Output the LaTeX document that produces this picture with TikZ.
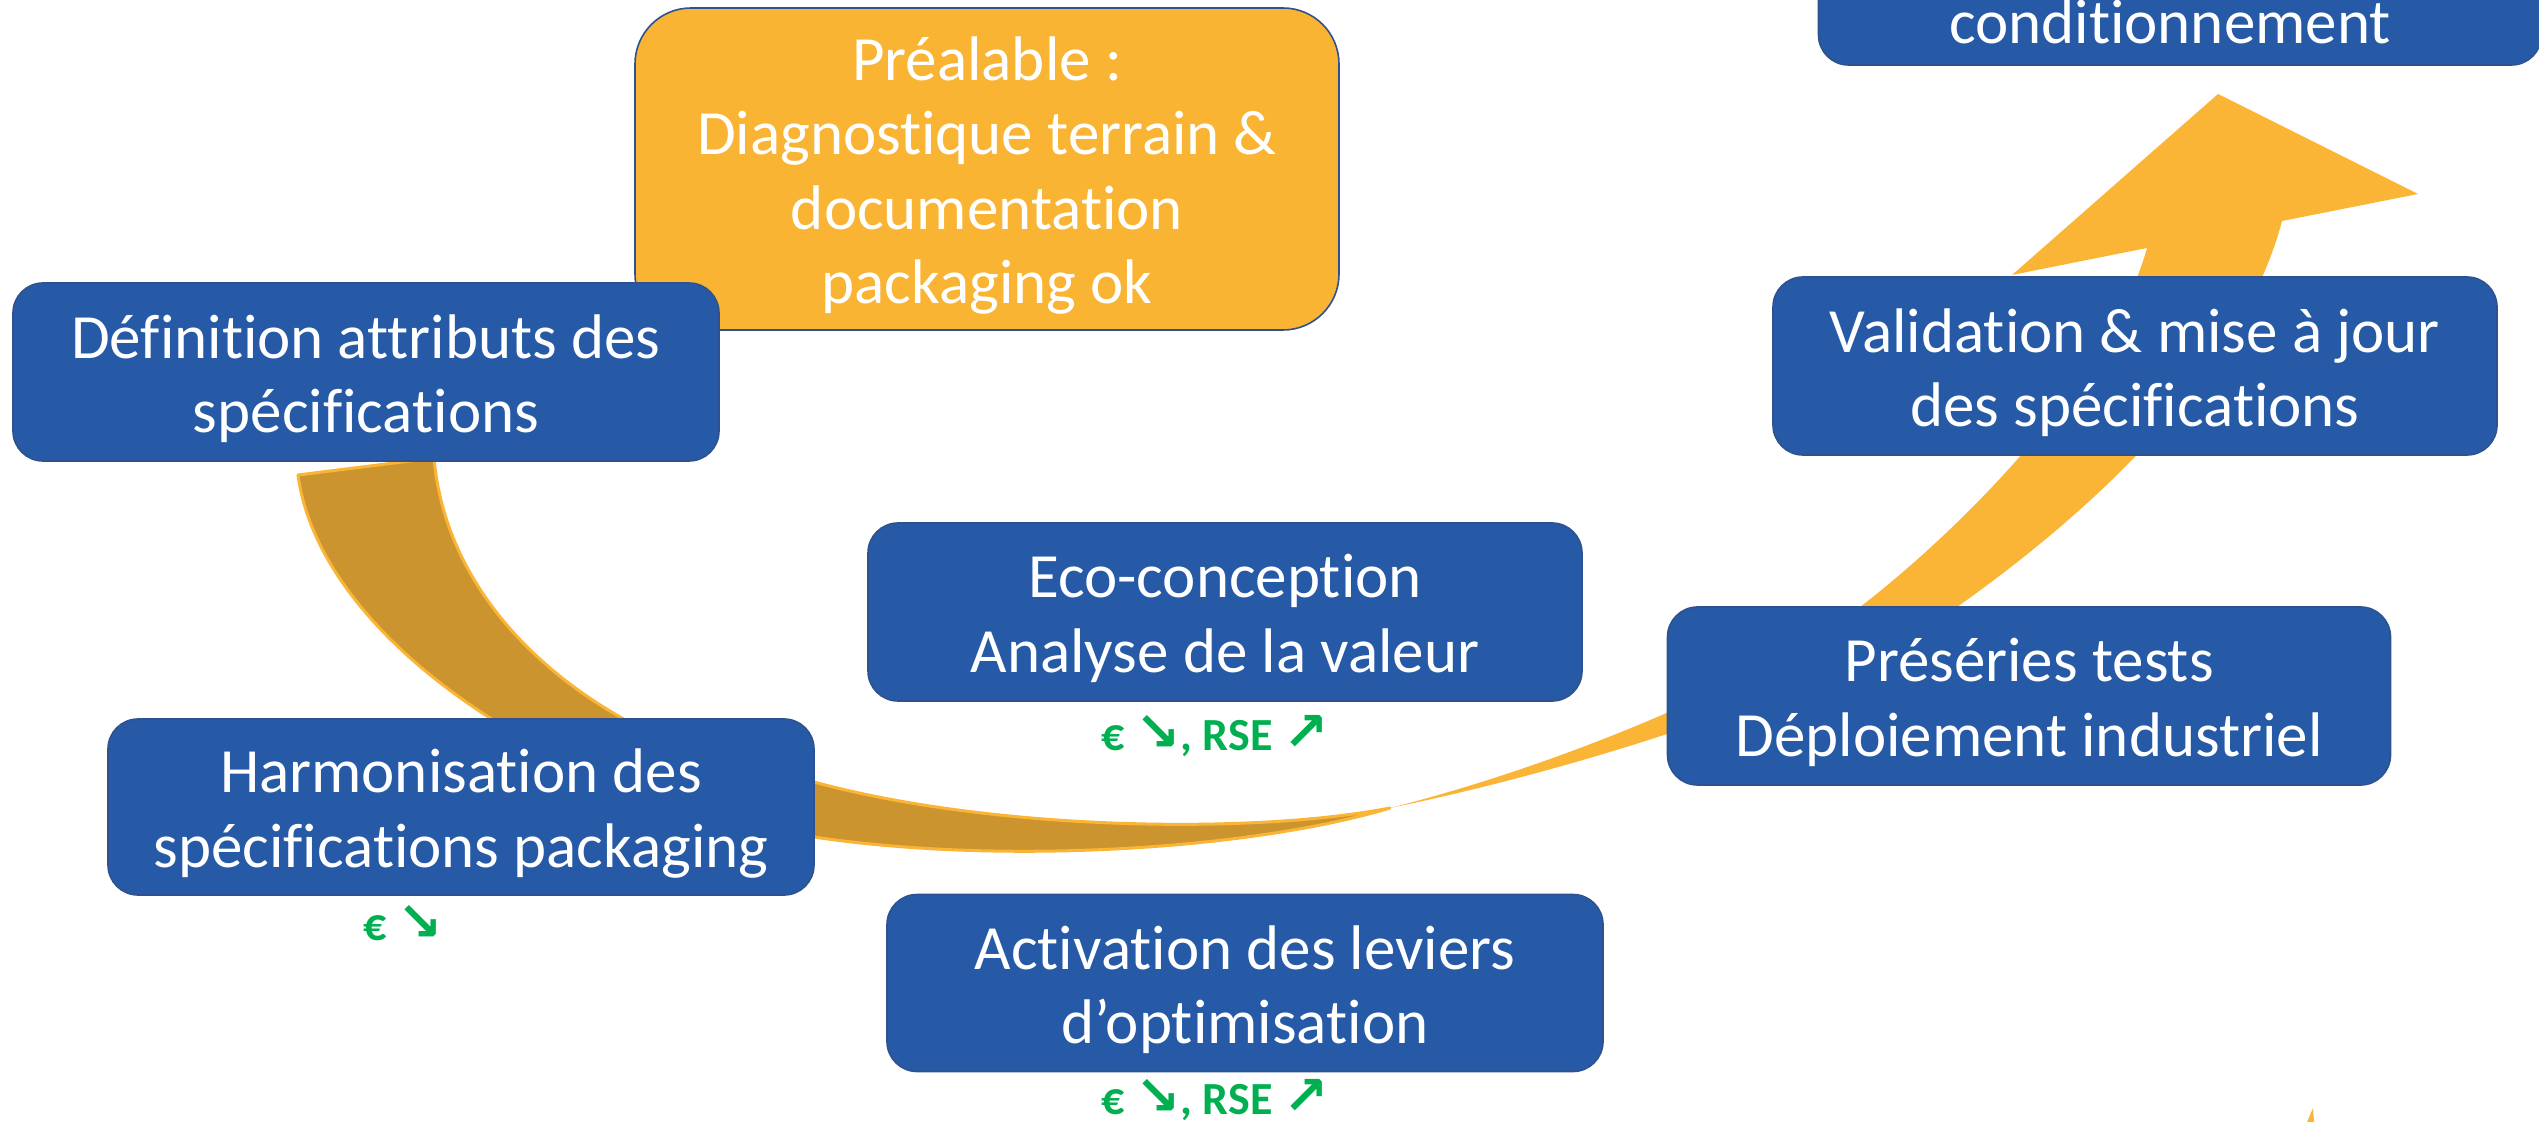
\documentclass[tikz,border=0pt]{standalone}
\usepackage{fontspec}
\setmainfont{Carlito}[Ligatures=NoCommon]
\newfontfamily\arrowfont{DejaVu Sans}
\definecolor{boxblue}{RGB}{38,90,166}
\definecolor{boxline}{RGB}{47,82,143}
\definecolor{lightor}{RGB}{251,181,54}
\definecolor{darkor}{RGB}{204,148,46}
\definecolor{prefill}{RGB}{250,180,52}
\definecolor{gainsgreen}{RGB}{0,176,80}
\newcommand{\arrdn}{{\arrowfont\fontsize{27}{27}\selectfont ↘}}
\newcommand{\arrup}{{\arrowfont\fontsize{27}{27}\selectfont ↗}}
\begin{document}
\begin{tikzpicture}[x=0.5pt,y=-0.5pt,
  bluebox/.style={draw=boxline, line width=0.8pt, fill=boxblue, rounded corners=15pt, inner sep=0pt},
  boxtext/.style={text=white, align=center, font=\fontsize{31.5}{37.25}\selectfont, inner sep=0pt},
  boxlabel/.style={boxtext, yshift=-3.3pt},
  gain/.style={text=gainsgreen, font=\fontsize{23}{27}\selectfont\bfseries, anchor=base, inner sep=0pt}
]
\useasboundingbox (0,0) rectangle (2539,1122);
\clip (0,0) rectangle (2539,1122);

% light arm of the curved arrow
\fill[lightor] (1390,808) .. controls (1580,760) and (1780,670) .. (1860,607)
  .. controls (1960,530) and (2110,380) .. (2147,248)
  -- (2012,275) -- (2218,94) -- (2418,194) -- (2282,221)
  .. controls (2240,380) and (2080,520) .. (1957,607)
  .. controls (1850,680) and (1600,765) .. cycle;

% dark back band
\filldraw[fill=darkor, draw=lightor, line width=1.5pt, line join=round]
  (298,475) -- (434,458) .. controls (450,640) and (640,760) .. (814,782)
  .. controls (990,830) and (1250,835) .. (1390,808)
  .. controls (1250,850) and (1000,865) .. (814,837)
  .. controls (560,800) and (320,640) .. cycle;

% small tip at bottom edge
\fill[lightor] (2307,1122) -- (2313,1108) -- (2314,1122) -- cycle;

% boxes
\node[bluebox, fill=prefill, rounded corners=28pt, minimum width=352pt, minimum height=161pt,
  label={[boxlabel]center:{Préalable :\\Diagnostique terrain \&\\documentation\\packaging ok}}] (pre) at (987,169) {};
\node[bluebox, minimum width=353pt, minimum height=89pt,
  label={[boxlabel]center:{Définition attributs des\\spécifications}}] (def) at (366,372) {};
\node[bluebox, minimum width=353pt, minimum height=88pt,
  label={[boxlabel]center:{Harmonisation des\\spécifications packaging}}] (harm) at (461,807) {};
\node[bluebox, minimum width=357pt, minimum height=89pt,
  label={[boxlabel]center:{Eco-conception\\Analyse de la valeur}}] (eco) at (1225,612) {};
\node[bluebox, minimum width=358pt, minimum height=88.5pt,
  label={[boxlabel]center:{Activation des leviers\\d’optimisation}}] (act) at (1245,983) {};
\node[bluebox, minimum width=361.5pt, minimum height=89pt,
  label={[boxlabel]center:{Préséries tests\\Déploiement industriel}}] (pres) at (2029,696) {};
\node[bluebox, minimum width=362pt, minimum height=89pt,
  label={[boxlabel]center:{Validation \& mise à jour\\des spécifications}}] (valid) at (2135,366) {};
\node[bluebox, minimum width=361.5pt, minimum height=89pt] (condbox) at (2180,-24) {};
\node[boxtext, anchor=base] (cond) at (2170,44) {conditionnement};

% gains
\node[gain] (g1) at (1215,750) {€ \arrdn, RSE \arrup};
\node[gain] (g2) at (1215,1114) {€ \arrdn, RSE \arrup};
\node[gain] (g3) at (403,940) {€ \arrdn};
\end{tikzpicture}
\end{document}
